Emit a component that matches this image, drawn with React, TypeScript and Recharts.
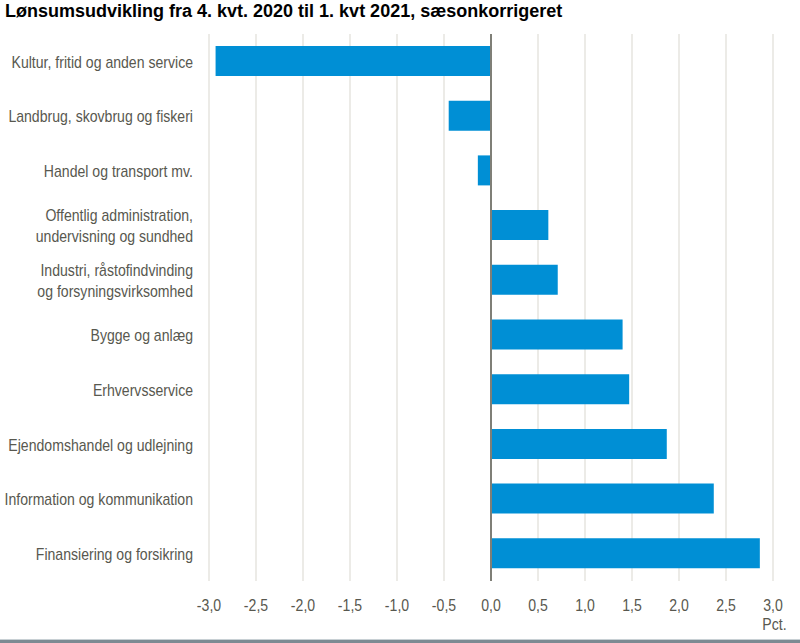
import { BarChart, Bar, XAxis, YAxis, CartesianGrid, ReferenceLine } from 'recharts'

// Brancher, øverst til nederst
const categories = [
    'Kultur, fritid og anden service',
    'Landbrug, skovbrug og fiskeri',
    'Handel og transport mv.',
    'Offentlig administration,\nundervisning og sundhed',
    'Industri, råstofindvinding\nog forsyningsvirksomhed',
    'Bygge og anlæg',
    'Erhvervsservice',
    'Ejendomshandel og udlejning',
    'Information og kommunikation',
    'Finansiering og forsikring',
]

// Ændring i pct.
const values = [-2.93, -0.45, -0.14, 0.61, 0.71, 1.4, 1.47, 1.87, 2.37, 2.86]

const xTicks = [-3, -2.5, -2, -1.5, -1, -0.5, 0, 0.5, 1, 1.5, 2, 2.5, 3]

const data = categories.map((name, i) => ({ name, value: values[i] }))

const FONT = '"Liberation Sans", Arial, sans-serif'
const TEXT = '#58584f'
// the original uses a narrow font, so squeeze the regular one a bit
const SQUEEZE = 0.88

function CategoryTick({ y, payload }: any) {
    const lines = String(payload.value).split('\n')
    const lh = 21
    const start = y - ((lines.length - 1) * lh) / 2
    return (
        <g transform={`translate(193,0) scale(${SQUEEZE},1)`}>
            <text x={0} y={start} textAnchor="end" fill={TEXT} fontSize={16} fontFamily={FONT} dominantBaseline="central">
                {lines.map((l, i) => (
                    <tspan key={i} x={0} y={start + i * lh}>{l}</tspan>
                ))}
            </text>
        </g>
    )
}

function ValueTick({ x, y, payload }: any) {
    const label = Number(payload.value).toFixed(1).replace('.', ',')
    return (
        <g transform={`translate(${x},${y + 4}) scale(${SQUEEZE},1)`}>
            <text x={0} y={0} textAnchor="middle" fill={TEXT} fontSize={16} fontFamily={FONT} dominantBaseline="central">
                {label}
            </text>
        </g>
    )
}

export default function App() {
    return (
        <div style={{ position: 'absolute', left: 0, top: 0, width: 800, height: 643, background: '#fff', overflow: 'hidden' }}>
            <div style={{ position: 'absolute', left: 5, top: 1, fontFamily: FONT, fontWeight: 'bold', fontSize: 18, color: '#000', whiteSpace: 'nowrap' }}>
                Lønsumsudvikling fra 4. kvt. 2020 til 1. kvt 2021, sæsonkorrigeret
            </div>
            <BarChart
                width={800}
                height={643}
                data={data}
                layout="vertical"
                barSize={30}
                margin={{ top: 34, right: 27, bottom: 22, left: 0 }}
            >
                <CartesianGrid horizontal={false} stroke="#e6e5df" strokeWidth={1.5} />
                <XAxis
                    type="number"
                    domain={[-3, 3]}
                    ticks={xTicks}
                    interval={0}
                    axisLine={false}
                    tickLine={false}
                    height={40}
                    tickMargin={14}
                    tick={<ValueTick />}
                />
                <YAxis
                    type="category"
                    dataKey="name"
                    width={209}
                    axisLine={false}
                    tickLine={false}
                    interval={0}
                    tick={<CategoryTick />}
                />
                <Bar dataKey="value" fill="#008fd5" isAnimationActive={false} />
                <ReferenceLine x={0} stroke="#7f7f77" strokeWidth={2} />
            </BarChart>
            <div style={{ position: 'absolute', right: 13, top: 616, fontFamily: FONT, fontSize: 16, lineHeight: '18px', color: TEXT, transform: `scaleX(${SQUEEZE})`, transformOrigin: 'right center' }}>
                Pct.
            </div>
            <div style={{ position: 'absolute', left: 0, top: 639, width: 800, height: 4, background: '#7d8a92', borderTop: '1px solid #c8d0d4' }} />
        </div>
    )
}
